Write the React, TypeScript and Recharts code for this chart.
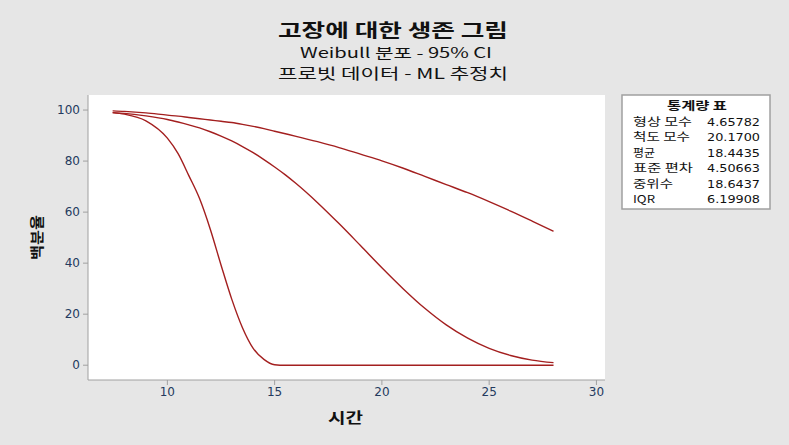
import React from 'react';
import { LineChart, Line, XAxis, YAxis, CartesianGrid } from 'recharts';

// times (x) shared by the three curves
const times = [7.45, 8, 9, 10, 10.5, 11, 11.5, 12, 12.5, 13, 13.5, 14, 14.5, 15, 15.5, 16, 17, 18, 19, 20, 21, 22, 23, 24, 25, 26, 27, 28];

// survival %
const lowerCI = [99.0, 98.4, 95.8, 89.0, 82.9, 74.3, 65.3, 53.3, 39.3, 25.9, 14.7, 6.6, 2.3, 0.2, 0, 0, 0, 0, 0, 0, 0, 0, 0, 0, 0, 0, 0, 0];
const estimate = [99.0, 98.7, 97.7, 96.3, 95.3, 94.2, 93.0, 91.5, 89.8, 87.9, 85.7, 83.3, 80.6, 77.7, 74.6, 71.2, 63.7, 55.5, 46.9, 38.2, 29.9, 22.3, 15.8, 10.6, 6.6, 3.8, 2.0, 1.0];
const upperCI = [99.7, 99.5, 98.9, 98.0, 97.6, 97.1, 96.6, 96.1, 95.6, 95.1, 94.4, 93.6, 92.7, 91.7, 90.7, 89.7, 87.6, 85.3, 82.7, 80.1, 77.2, 74.0, 70.8, 67.6, 64.1, 60.4, 56.5, 52.5];

const xTicks = [10, 15, 20, 25, 30];
const yTicks = [0, 20, 40, 60, 80, 100];

const statLabels = ['형상 모수', '척도 모수', '평균', '표준 편차', '중위수', 'IQR'];
const statValues = ['4.65782', '20.1700', '18.4435', '4.50663', '18.6437', '6.19908'];
const statWidths = [59, 57, 22, 60, 40, 22];

const rows = times.map((t, i) => ({ t, lo: lowerCI[i], est: estimate[i], hi: upperCI[i] }));

const LINE = '#a31f1f';
const FRAME = '#a0a0a0';
const TICK = { fill: '#243a5e', fontSize: 12, fontFamily: 'DejaVu Sans' };
const KR = "'Noto Sans CJK KR', 'DejaVu Sans', sans-serif";

export default function App() {
  return (
    <div style={{ position: 'absolute', left: 0, top: 0, width: 789, height: 445, background: '#e6e6e6' }}>
      <LineChart width={789} height={445} data={rows} margin={{ top: 95, right: 184, bottom: 35, left: 48 }}>
        <CartesianGrid fill="#ffffff" horizontal={false} vertical={false} />
        <XAxis
          dataKey="t"
          type="number"
          domain={[6.3, 30.4]}
          ticks={xTicks}
          allowDataOverflow
          height={30}
          tick={TICK}
          tickSize={5}
          tickMargin={2}
          stroke={FRAME}
        />
        <XAxis xAxisId="top" orientation="top" type="number" domain={[6.3, 30.4]} height={0} tick={false} tickLine={false} stroke={FRAME} />
        <YAxis
          domain={[-5.8, 105.9]}
          ticks={yTicks}
          allowDataOverflow
          width={40}
          tick={TICK}
          tickSize={5}
          tickMargin={3}
          stroke={FRAME}
        />
        <YAxis yAxisId="right" orientation="right" domain={[0, 1]} width={0} tick={false} tickLine={false} stroke={FRAME} />
        <Line dataKey="lo" type="monotone" stroke={LINE} strokeWidth={1.4} dot={false} isAnimationActive={false} />
        <Line dataKey="est" type="monotone" stroke={LINE} strokeWidth={1.4} dot={false} isAnimationActive={false} />
        <Line dataKey="hi" type="monotone" stroke={LINE} strokeWidth={1.4} dot={false} isAnimationActive={false} />
      </LineChart>

      <svg width={789} height={445} style={{ position: 'absolute', left: 0, top: 0, pointerEvents: 'none' }}>
        <g fontFamily={KR} fill="#111">
          <text x={278} y={37} fontSize={18} fontWeight="bold" textLength={230} lengthAdjust="spacingAndGlyphs">고장에 대한 생존 그림</text>
          <text x={300} y={58} fontSize={14} textLength={192} lengthAdjust="spacingAndGlyphs">Weibull 분포 - 95% CI</text>
          <text x={278} y={79} fontSize={15} textLength={230} lengthAdjust="spacingAndGlyphs">프로빗 데이터 - ML 추정치</text>
          <text x={328} y={423} fontSize={15} fontWeight="bold" textLength={35} lengthAdjust="spacingAndGlyphs">시간</text>
          <text x={0} y={0} fontSize={14} fontWeight="bold" textLength={45} lengthAdjust="spacingAndGlyphs" transform="translate(42 260) rotate(-90)">백분율</text>
        </g>
        <rect x={622} y={95} width={148} height={114} fill="#ffffff" stroke={FRAME} strokeWidth={1.5} />
        <g fontFamily={KR} fontSize={11} fill="#111">
          <text x={667} y={110} fontWeight="bold" textLength={60} lengthAdjust="spacingAndGlyphs">통계량 표</text>
          {statLabels.map((s, i) => (
            <text key={s} x={633} y={126 + i * 15.4} textLength={statWidths[i]} lengthAdjust="spacingAndGlyphs">{s}</text>
          ))}
          {statValues.map((v, i) => (
            <text key={v} x={707} y={126 + i * 15.4} fontFamily="DejaVu Sans" textLength={53} lengthAdjust="spacingAndGlyphs">{v}</text>
          ))}
        </g>
      </svg>
    </div>
  );
}
